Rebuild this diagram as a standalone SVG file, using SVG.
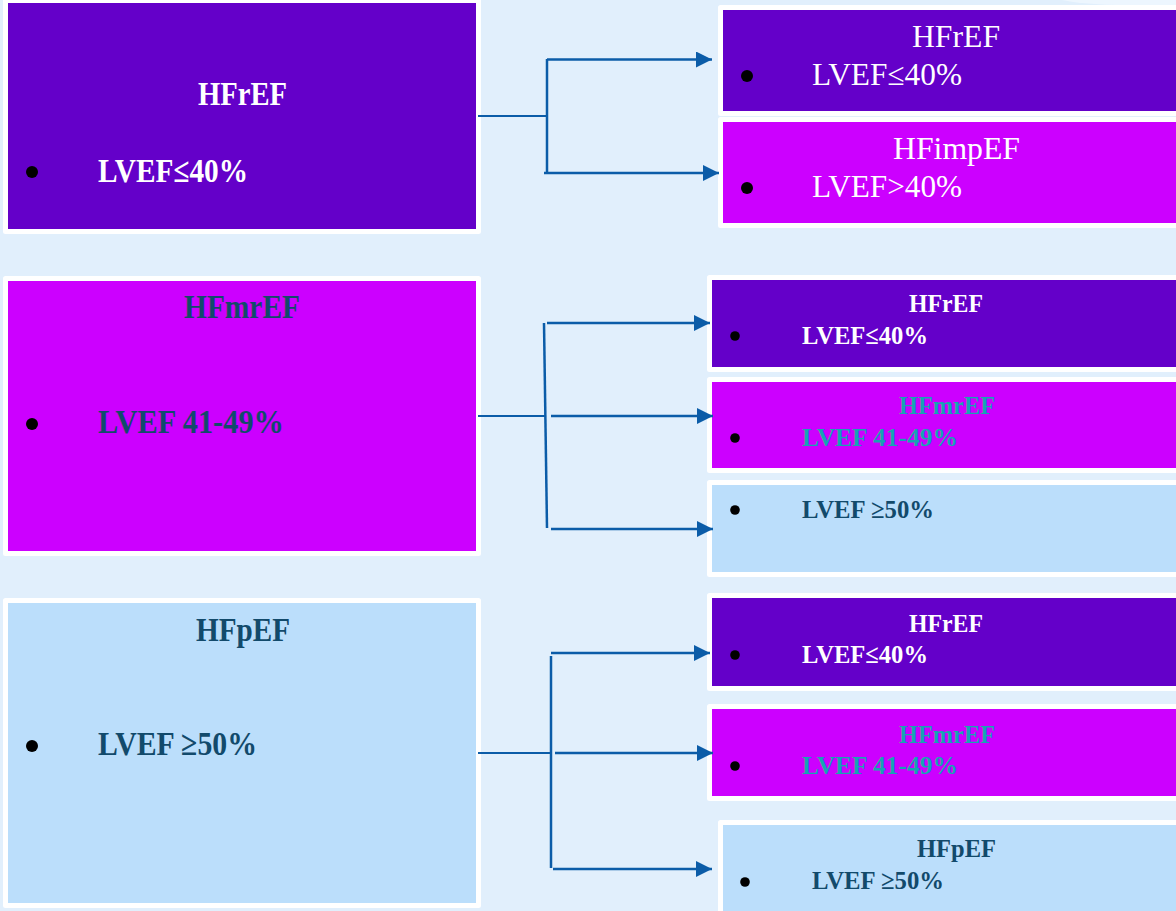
<svg xmlns="http://www.w3.org/2000/svg" width="1176" height="911" viewBox="0 0 1176 911">
<defs>
<style>
.box{stroke:#ffffff;stroke-width:5;stroke-linejoin:round}
.p{fill:#6400C9}
.m{fill:#CC00FF}
.b{fill:#BBDEFB}
text{font-family:"Liberation Serif","DejaVu Serif",serif}
.bold{font-weight:bold}
.w{fill:#ffffff}
.n{fill:#124A6B}
.t{fill:#17A3B3}
.dot{fill:#000000}
.ln{fill:none;stroke:#0B5CA8;stroke-width:2.5}
.stub{fill:none;stroke:#0B5CA8;stroke-width:2}
</style>
<marker id="ah" markerUnits="userSpaceOnUse" markerWidth="16" markerHeight="16" refX="16" refY="8" orient="auto" viewBox="0 0 16 16">
<path d="M0,0 L16,8 L0,16 Z" fill="#0B5CA8"/>
</marker>
</defs>
<rect x="0" y="0" width="1176" height="911" fill="#E1EFFC"/>
<path d="M1062,0 Q1095,7 1176,5 V0 Z" fill="#EDF6FE"/>

<g id="left-hfref">
<rect class="box p" x="5.5" y="0.5" width="473" height="231"/>
<text class="bold w" x="198" y="105" font-size="34" textLength="89" lengthAdjust="spacingAndGlyphs">HFrEF</text>
<circle class="dot" cx="32" cy="172" r="6"/>
<text class="bold w" x="98" y="182" font-size="34" textLength="150" lengthAdjust="spacingAndGlyphs">LVEF≤40%</text>
</g>

<g id="left-hfmref">
<rect class="box m" x="5.5" y="278.5" width="473" height="275"/>
<text class="bold n" x="184" y="318" font-size="34" textLength="116" lengthAdjust="spacingAndGlyphs">HFmrEF</text>
<circle class="dot" cx="32" cy="424" r="6"/>
<text class="bold n" x="98" y="433" font-size="34" textLength="186" lengthAdjust="spacingAndGlyphs">LVEF 41-49%</text>
</g>

<g id="left-hfpef">
<rect class="box b" x="5.5" y="600.5" width="473" height="305"/>
<text class="bold n" x="196" y="641" font-size="34" textLength="94" lengthAdjust="spacingAndGlyphs">HFpEF</text>
<circle class="dot" cx="32" cy="746" r="6"/>
<text class="bold n" x="98" y="755" font-size="34" textLength="159" lengthAdjust="spacingAndGlyphs">LVEF ≥50%</text>
</g>

<g id="r1-hfref">
<rect class="box p" x="720.5" y="7.5" width="470" height="106"/>
<text class="w" x="912" y="47" font-size="32" textLength="88" lengthAdjust="spacingAndGlyphs">HFrEF</text>
<circle class="dot" cx="747" cy="76" r="6"/>
<text class="w" x="812" y="85" font-size="32" textLength="150" lengthAdjust="spacingAndGlyphs">LVEF≤40%</text>
</g>

<g id="r1-hfimpef">
<rect class="box m" x="720.5" y="119.5" width="470" height="106"/>
<text class="w" x="893" y="159" font-size="32" textLength="127" lengthAdjust="spacingAndGlyphs">HFimpEF</text>
<circle class="dot" cx="747" cy="188" r="6"/>
<text class="w" x="812" y="197" font-size="32" textLength="150" lengthAdjust="spacingAndGlyphs">LVEF&gt;40%</text>
</g>

<g id="r2-hfref">
<rect class="box p" x="709.5" y="277.5" width="480" height="92"/>
<text class="bold w" x="909" y="312" font-size="26" textLength="74" lengthAdjust="spacingAndGlyphs">HFrEF</text>
<circle class="dot" cx="735" cy="336" r="4.8"/>
<text class="bold w" x="802" y="344" font-size="26" textLength="126" lengthAdjust="spacingAndGlyphs">LVEF≤40%</text>
</g>

<g id="r2-hfmref">
<rect class="box m" x="709.5" y="379.5" width="480" height="91"/>
<text class="bold t" x="899" y="414" font-size="26" textLength="96" lengthAdjust="spacingAndGlyphs">HFmrEF</text>
<circle class="dot" cx="735" cy="438" r="4.8"/>
<text class="bold t" x="802" y="446" font-size="26" textLength="156" lengthAdjust="spacingAndGlyphs">LVEF 41-49%</text>
</g>

<g id="r2-lvef50">
<rect class="box b" x="709.5" y="482.5" width="480" height="92"/>
<circle class="dot" cx="735" cy="510" r="4.8"/>
<text class="bold n" x="802" y="518" font-size="26" textLength="132" lengthAdjust="spacingAndGlyphs">LVEF ≥50%</text>
</g>

<g id="r3-hfref">
<rect class="box p" x="709.5" y="595.5" width="480" height="93"/>
<text class="bold w" x="909" y="632" font-size="26" textLength="74" lengthAdjust="spacingAndGlyphs">HFrEF</text>
<circle class="dot" cx="735" cy="655" r="4.8"/>
<text class="bold w" x="802" y="663" font-size="26" textLength="126" lengthAdjust="spacingAndGlyphs">LVEF≤40%</text>
</g>

<g id="r3-hfmref">
<rect class="box m" x="709.5" y="706.5" width="480" height="92"/>
<text class="bold t" x="899" y="743" font-size="26" textLength="96" lengthAdjust="spacingAndGlyphs">HFmrEF</text>
<circle class="dot" cx="735" cy="766" r="4.8"/>
<text class="bold t" x="802" y="774" font-size="26" textLength="156" lengthAdjust="spacingAndGlyphs">LVEF 41-49%</text>
</g>

<g id="r3-hfpef">
<rect class="box b" x="720.5" y="822.5" width="470" height="100"/>
<text class="bold n" x="917" y="857" font-size="26" textLength="79" lengthAdjust="spacingAndGlyphs">HFpEF</text>
<circle class="dot" cx="745" cy="882" r="4.8"/>
<text class="bold n" x="812" y="889" font-size="26" textLength="132" lengthAdjust="spacingAndGlyphs">LVEF ≥50%</text>
</g>

<g id="connectors">
<path class="stub" d="M478,116 H546"/>
<path class="ln" d="M547,59 V174"/>
<path class="ln" d="M547,59.5 H712" marker-end="url(#ah)"/>
<path class="ln" d="M544,173 H719" marker-end="url(#ah)"/>

<path class="stub" d="M478,416 H545"/>
<path class="ln" d="M544,323 L547,528"/>
<path class="ln" d="M547,323 H710" marker-end="url(#ah)"/>
<path class="ln" d="M551,416 H713" marker-end="url(#ah)"/>
<path class="ln" d="M551,529 H713" marker-end="url(#ah)"/>

<path class="stub" d="M478,753 H550"/>
<path class="ln" d="M551,656 V868"/>
<path class="ln" d="M551,653 H710" marker-end="url(#ah)"/>
<path class="ln" d="M555,753 H713" marker-end="url(#ah)"/>
<path class="ln" d="M553,869 H712" marker-end="url(#ah)"/>
</g>
</svg>
